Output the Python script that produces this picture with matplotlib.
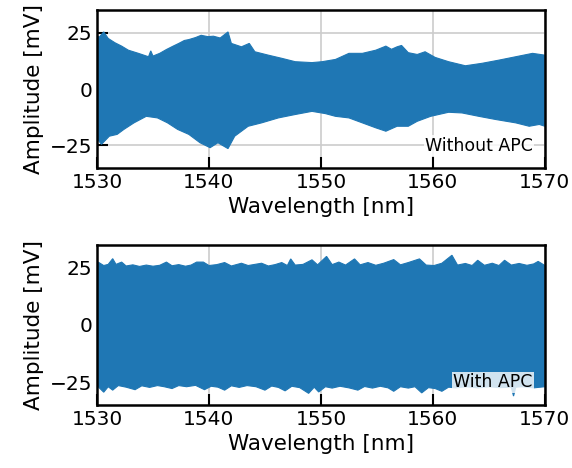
import numpy as np
import matplotlib.pyplot as plt

# envelope of the measured signal, read off the figure (wavelength in nm, amplitude in mV)
# top panel: without APC
wl_top_hi = [1530.0, 1530.2, 1530.6, 1531.0, 1531.6, 1532.2, 1532.8, 1533.7, 1534.6, 1534.8,
             1535.0, 1535.6, 1536.2, 1536.8, 1537.3, 1537.8, 1538.2, 1538.8, 1539.3, 1539.9,
             1540.4, 1541.0, 1541.7, 1542.0, 1542.9, 1543.6, 1544.1, 1545.3, 1546.5, 1547.7,
             1549.2, 1550.1, 1551.3, 1552.5, 1553.7, 1554.9, 1555.8, 1556.3, 1556.8, 1557.2,
             1557.8, 1558.6, 1559.3, 1560.2, 1561.4, 1562.9, 1564.4, 1565.9, 1567.4, 1568.9,
             1570.0]
top_hi = [23.5, 23.0, 25.3, 22.4, 20.5, 19.0, 17.2, 15.8, 14.3, 16.9,
          14.6, 15.8, 17.5, 19.0, 20.2, 21.5, 21.9, 22.8, 23.8, 23.2,
          23.4, 22.6, 25.3, 20.2, 18.7, 20.2, 16.5, 15.0, 13.6, 12.1,
          11.7, 12.1, 13.1, 15.8, 15.8, 17.2, 19.0, 17.6, 18.7, 19.3,
          16.1, 15.3, 16.5, 14.0, 12.1, 10.3, 11.4, 12.8, 14.3, 15.8,
          15.0]
wl_top_lo = [1530.0, 1530.4, 1531.1, 1531.8, 1532.4, 1533.3, 1534.4, 1535.4, 1536.3, 1537.2,
             1538.2, 1539.2, 1540.1, 1540.8, 1541.7, 1542.3, 1543.5, 1544.7, 1546.2, 1547.7,
             1549.2, 1550.4, 1551.3, 1552.5, 1553.7, 1554.9, 1555.8, 1556.8, 1557.8, 1558.6,
             1559.8, 1561.4, 1562.6, 1564.1, 1565.6, 1567.4, 1568.6, 1569.5, 1570.0]
top_lo = [-22.0, -24.5, -20.9, -20.1, -17.9, -15.0, -12.1, -12.8, -15.0, -17.9,
          -20.1, -23.8, -26.0, -23.8, -26.4, -20.9, -16.5, -15.0, -12.8, -11.3,
          -9.9, -10.9, -12.1, -12.8, -15.0, -17.2, -18.7, -16.5, -16.5, -14.3,
          -12.1, -10.3, -10.6, -12.1, -13.5, -15.0, -16.5, -15.7, -16.5]

# bottom panel: with APC
wl_bot_hi = [1530.0, 1530.1, 1530.6, 1531.0, 1531.4, 1531.7, 1532.2, 1532.6, 1533.2, 1533.8,
             1534.4, 1535.0, 1535.6, 1536.2, 1536.7, 1537.3, 1537.9, 1538.4, 1538.9, 1539.5,
             1540.0, 1540.7, 1541.4, 1542.0, 1542.9, 1543.5, 1544.1, 1544.7, 1545.3, 1545.9,
             1546.5, 1547.0, 1547.3, 1547.7, 1548.4, 1549.2, 1549.7, 1550.5, 1551.0, 1551.6,
             1552.2, 1553.0, 1553.5, 1554.2, 1554.9, 1555.6, 1556.5, 1557.1, 1557.8, 1558.8,
             1559.4, 1560.1, 1560.8, 1561.7, 1562.2, 1562.9, 1563.5, 1564.0, 1564.6, 1565.3,
             1565.9, 1566.4, 1567.0, 1567.7, 1568.4, 1569.0, 1569.4, 1570.0]
bot_hi = [26.5, 27.5, 26.0, 26.5, 29.0, 26.5, 27.5, 25.8, 26.3, 25.6,
          26.2, 25.7, 26.1, 27.5, 25.9, 26.4, 25.7, 26.2, 27.5, 27.5,
          26.0, 26.4, 27.3, 25.8, 27.0, 26.0, 26.5, 27.0, 25.8, 26.4,
          27.3, 26.0, 28.9, 26.2, 26.5, 28.5, 26.3, 30.0, 26.4, 27.5,
          26.2, 28.9, 26.3, 27.3, 26.1, 27.0, 28.6, 26.3, 27.3, 28.9,
          26.2, 26.0, 27.0, 30.5, 26.2, 26.9, 26.0, 28.3, 26.1, 27.0,
          26.0, 28.3, 26.2, 26.9, 26.1, 26.7, 27.8, 26.0]
wl_bot_lo = [1530.0, 1530.6, 1531.0, 1531.4, 1531.9, 1532.6, 1533.4, 1534.0, 1534.7, 1535.4,
             1536.0, 1536.7, 1537.3, 1538.0, 1538.8, 1539.6, 1540.2, 1540.8, 1541.4, 1542.0,
             1542.7, 1543.4, 1544.2, 1545.0, 1545.6, 1546.2, 1546.8, 1547.4, 1548.1, 1548.9,
             1549.4, 1549.8, 1550.4, 1551.0, 1551.7, 1552.5, 1553.3, 1553.9, 1554.6, 1555.3,
             1556.0, 1556.5, 1557.1, 1557.8, 1558.4, 1559.0, 1559.6, 1560.2, 1560.8, 1561.4,
             1562.0, 1563.0, 1564.0, 1565.0, 1566.0, 1567.0, 1567.2, 1567.4, 1568.0, 1569.0,
             1570.0]
bot_lo = [-26.5, -29.4, -27.0, -28.5, -26.5, -27.2, -28.3, -26.6, -27.3, -26.5,
          -27.0, -27.8, -26.5, -27.0, -26.4, -28.3, -26.8, -27.2, -28.5, -26.6,
          -27.3, -26.5, -27.0, -28.5, -26.7, -27.3, -28.8, -26.8, -27.4, -29.9,
          -27.2, -29.3, -27.0, -27.6, -26.8, -27.5, -28.5, -26.9, -27.6, -26.8,
          -27.5, -29.0, -27.0, -27.6, -27.0, -29.7, -27.4, -27.8, -29.0, -27.2,
          -27.5, -27.0, -27.5, -27.0, -27.4, -27.2, -31.1, -27.2, -27.0, -27.5,
          -27.0]

fig = plt.figure(figsize=(5.72, 4.68), dpi=100)
ax1 = fig.add_axes([0.1696, 0.641, 0.783, 0.3376])
ax2 = fig.add_axes([0.1696, 0.1346, 0.783, 0.342])

panels = [(ax1, wl_top_hi, top_hi, wl_top_lo, top_lo, 'Without APC'),
          (ax2, wl_bot_hi, bot_hi, wl_bot_lo, bot_lo, 'With APC')]
for ax, wh, hi, wlo, lo, lab in panels:
    xs = list(wh) + list(wlo[::-1])
    ys = list(hi) + list(lo[::-1])
    ax.fill(xs, ys, color='#1f77b4', lw=0.8, zorder=2)
    ax.set_xlim(1530, 1570)
    ax.set_ylim(-35, 35)
    ax.set_xticks([1530, 1540, 1550, 1560, 1570])
    ax.set_yticks([-25, 0, 25])
    ax.grid(True, color='#cccccc', lw=1.2, zorder=0)
    ax.set_axisbelow(True)
    ax.tick_params(direction='in', length=8, width=1.5, labelsize=14.5)
    for s in ax.spines.values():
        s.set_linewidth(1.8)
    ax.set_xlabel('Wavelength [nm]', fontsize=15.5)
    ax.set_ylabel('Amplitude [mV]', fontsize=15.5)
    ax.text(0.973, 0.085, lab, transform=ax.transAxes, ha='right', va='bottom',
            fontsize=12.5, zorder=5,
            bbox=dict(facecolor='white', edgecolor='none', alpha=0.8, pad=1))

fig.savefig('out.png', dpi=100)
